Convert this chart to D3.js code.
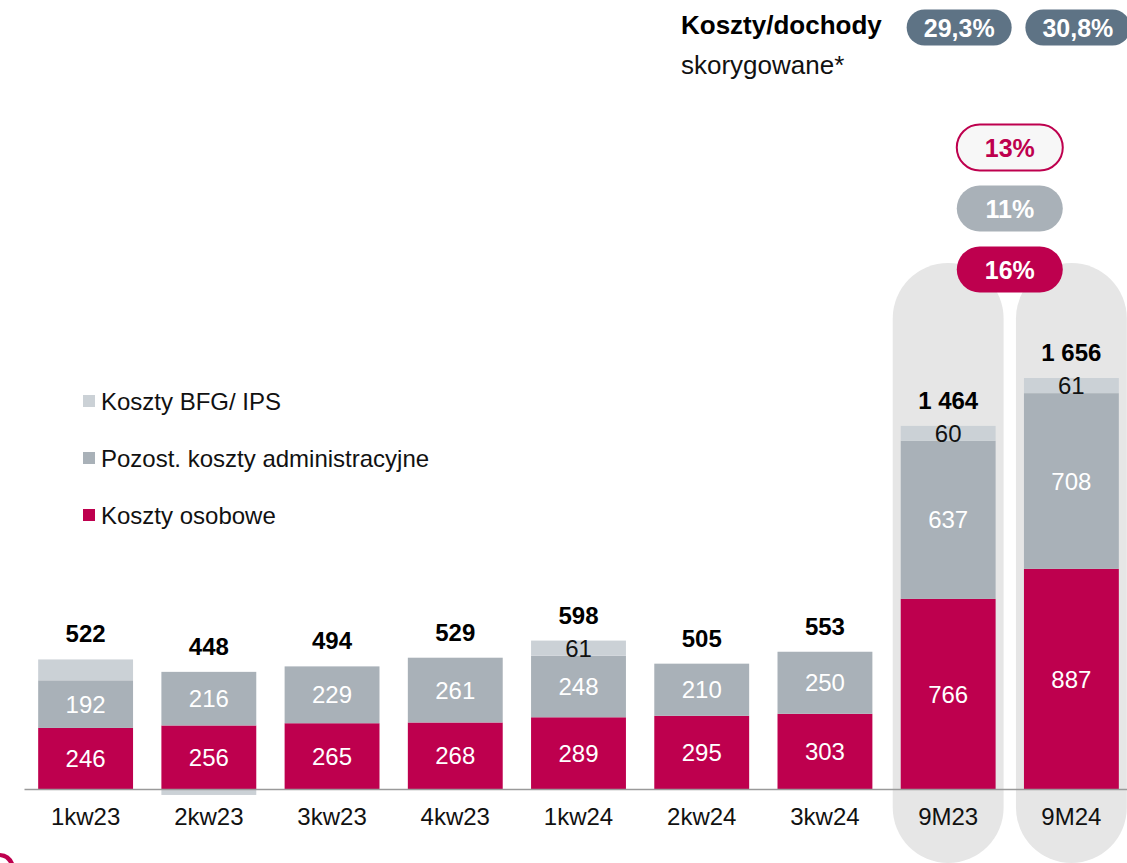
<!DOCTYPE html>
<html>
<head>
<meta charset="utf-8">
<script src="https://cdn.jsdelivr.net/npm/d3@7"></script>
<style>
  body { margin: 0; background: #fff; }
  svg { font-family: "Liberation Sans", Arial, sans-serif; display: block; }
</style>
</head>
<body>
<script>
// Data
const categories = ['1kw23', '2kw23', '3kw23', '4kw23', '1kw24', '2kw24', '3kw24', '9M23', '9M24'];
const personnelCosts = [246, 256, 265, 268, 289, 295, 303, 766, 887];
const adminCosts = [192, 216, 229, 261, 248, 210, 250, 637, 708];
const bfgCosts = [84, -24, 0, 0, 61, 0, 0, 60, 61];
const bfgLabelShown = [false, false, false, false, true, false, false, true, true];
const totals = [522, 448, 494, 529, 598, 505, 553, 1464, 1656];
const highlighted = ['9M23', '9M24'];
const ratioLabels = ['29,3%', '30,8%'];
const changeLabels = ['13%', '11%', '16%'];
const legendLabels = ['Koszty BFG/ IPS', 'Pozost. koszty administracyjne', 'Koszty osobowe'];

const colors = {
    personnel: '#be004e',
    admin: '#a9b1b8',
    bfg: '#cbd1d6',
    pill: '#e6e6e6',
    ratio: '#5e7385'
};

const width = 1127, height = 863;

const svg = d3.select('body')
    .append('svg')
    .attr('width', width)
    .attr('height', height);

// Scales
const x = d3.scaleBand()
    .domain(categories)
    .range([24, 1133])
    .paddingInner(0.23)
    .paddingOuter(0.115);

const y = d3.scaleLinear()
    .domain([0, 1656])
    .range([789, 378]);

// Build stacked segments by hand (negative BFG goes below zero)
const rows = categories.map((c, i) => {
    const p = personnelCosts[i], a = adminCosts[i], b = bfgCosts[i];
    return {
        cat: c,
        segs: [
            { key: 'personnel', y0: 0, y1: p, v: p, label: String(p), color: '#fff' },
            { key: 'admin', y0: p, y1: p + a, v: a, label: String(a), color: '#fff' },
            b >= 0
                ? { key: 'bfg', y0: p + a, y1: p + a + b, v: b, label: bfgLabelShown[i] ? String(b) : null, color: '#111' }
                : { key: 'bfg', y0: b, y1: 0, v: b, label: null, color: '#111' }
        ],
        top: p + a + Math.max(b, 0),
        total: totals[i]
    };
});

// Rounded backgrounds behind the 9M bars
const pillPad = 8;
svg.append('g')
    .selectAll('rect')
    .data(highlighted)
    .join('rect')
    .attr('x', d => x(d) - pillPad)
    .attr('y', 263)
    .attr('width', x.bandwidth() + pillPad * 2)
    .attr('height', 600)
    .attr('rx', (x.bandwidth() + pillPad * 2) / 2)
    .attr('fill', colors.pill);

// Bars
const barGroups = svg.append('g')
    .selectAll('g')
    .data(rows)
    .join('g')
    .attr('transform', d => `translate(${x(d.cat)},0)`);

barGroups.selectAll('rect')
    .data(d => d.segs.filter(s => s.v !== 0))
    .join('rect')
    .attr('x', 0)
    .attr('y', s => y(s.y1))
    .attr('width', x.bandwidth())
    .attr('height', s => y(s.y0) - y(s.y1))
    .attr('fill', s => colors[s.key]);

barGroups.selectAll('text.seg')
    .data(d => d.segs.filter(s => s.label))
    .join('text')
    .attr('class', 'seg')
    .attr('x', x.bandwidth() / 2)
    .attr('y', s => (y(s.y0) + y(s.y1)) / 2)
    .attr('dy', '0.36em')
    .attr('text-anchor', 'middle')
    .attr('font-size', '24px')
    .attr('fill', s => s.color)
    .text(s => s.label);

// Totals
const fmt = d3.formatLocale({ decimal: ',', thousands: ' ', grouping: [3], currency: ['', ''] }).format(',d');
barGroups.append('text')
    .attr('x', x.bandwidth() / 2)
    .attr('y', d => y(d.top) - 17)
    .attr('text-anchor', 'middle')
    .attr('font-size', '24px')
    .attr('font-weight', 'bold')
    .attr('fill', '#000')
    .text(d => fmt(d.total));

// X axis
const xAxis = svg.append('g')
    .attr('transform', `translate(0,${y(0)})`)
    .call(d3.axisBottom(x).tickSize(0).tickPadding(19));
xAxis.select('.domain')
    .attr('stroke', '#9a9a9a')
    .attr('stroke-width', 1.5);
xAxis.selectAll('text')
    .attr('font-size', '24px')
    .attr('fill', '#111')
    .attr('font-family', '"Liberation Sans", Arial, sans-serif');

// Legend
const legendColors = [colors.bfg, colors.admin, colors.personnel];
const legend = svg.append('g')
    .selectAll('g')
    .data(legendLabels)
    .join('g')
    .attr('transform', (d, i) => `translate(83,${401 + i * 57})`);
legend.append('rect')
    .attr('x', 0)
    .attr('y', -6)
    .attr('width', 12)
    .attr('height', 12)
    .attr('fill', (d, i) => legendColors[i]);
legend.append('text')
    .attr('x', 18)
    .attr('dy', '0.36em')
    .attr('font-size', '24px')
    .attr('fill', '#111')
    .text(d => d);

// Header: cost/income ratio
svg.append('text')
    .attr('x', 681)
    .attr('y', 34)
    .attr('font-size', '26px')
    .attr('font-weight', 'bold')
    .attr('fill', '#000')
    .text('Koszty/dochody');
svg.append('text')
    .attr('x', 681)
    .attr('y', 74)
    .attr('font-size', '26px')
    .attr('fill', '#111')
    .text('skorygowane*');

const ratioOffsets = [11, 6.5];
const ratioPills = svg.append('g')
    .selectAll('g')
    .data(ratioLabels)
    .join('g')
    .attr('transform', (d, i) => `translate(${x(highlighted[i]) + x.bandwidth() / 2 + ratioOffsets[i]},27.5)`);
ratioPills.append('rect')
    .attr('x', -52.5)
    .attr('y', -18)
    .attr('width', 105)
    .attr('height', 36)
    .attr('rx', 18)
    .attr('fill', colors.ratio);
ratioPills.append('text')
    .attr('text-anchor', 'middle')
    .attr('dy', '0.36em')
    .attr('font-size', '25px')
    .attr('font-weight', 'bold')
    .attr('fill', '#fff')
    .text(d => d);

// Change pills between the 9M bars
const changeStyles = [
    { fill: '#f7f7f7', stroke: colors.personnel, text: colors.personnel },
    { fill: colors.admin, stroke: 'none', text: '#fff' },
    { fill: colors.personnel, stroke: 'none', text: '#fff' }
];
const midX = (x('9M23') + x('9M24') + x.bandwidth()) / 2;
const changePills = svg.append('g')
    .selectAll('g')
    .data(changeLabels)
    .join('g')
    .attr('transform', (d, i) => `translate(${midX},${147.5 + i * 61})`);
changePills.append('rect')
    .attr('x', -53)
    .attr('y', -23)
    .attr('width', 106)
    .attr('height', 46)
    .attr('rx', 23)
    .attr('fill', (d, i) => changeStyles[i].fill)
    .attr('stroke', (d, i) => changeStyles[i].stroke)
    .attr('stroke-width', 2);
changePills.append('text')
    .attr('text-anchor', 'middle')
    .attr('dy', '0.36em')
    .attr('font-size', '25px')
    .attr('font-weight', 'bold')
    .attr('fill', (d, i) => changeStyles[i].text)
    .text(d => d);

// Logo fragment, bottom left
svg.append('path')
    .attr('d', 'M0,853 A16,16 0 0 1 14,863 L9,863 A12,12 0 0 0 0,857 Z')
    .attr('fill', colors.personnel);
</script>
</body>
</html>
